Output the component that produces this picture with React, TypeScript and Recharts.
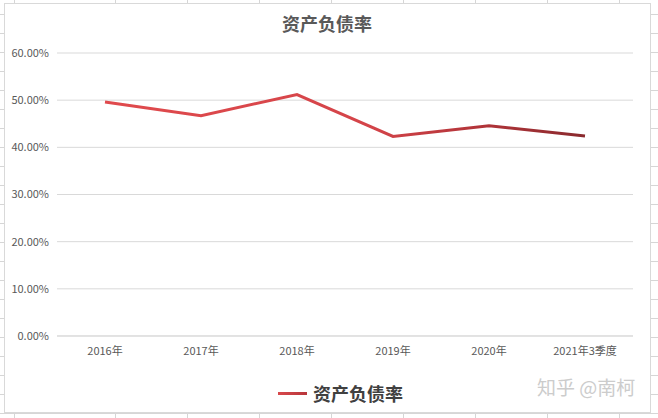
import { LineChart, Line, XAxis, YAxis, CartesianGrid } from "recharts"

const categories = ["2016年", "2017年", "2018年", "2019年", "2020年", "2021年3季度"]
const debtRatio = [0.496, 0.467, 0.512, 0.423, 0.446, 0.424]
const yTicks = [0, 0.1, 0.2, 0.3, 0.4, 0.5, 0.6]

const data = categories.map((name, i) => ({ name, value: debtRatio[i] }))

const CJK = '"Noto Sans CJK SC", "Noto Sans", sans-serif'
const SHEET_LINE = "#d6d6d6"

// spreadsheet cell lines behind the chart box
const sheetCols = [14, 115, 187, 259, 331, 403, 475, 547, 619]
const sheetRows = Array.from({ length: 22 }, (_, i) => 14 + i * 19)

export default function App() {
  return (
    <div
      style={{
        position: "fixed",
        left: 0,
        top: 0,
        width: 658,
        height: 418,
        overflow: "hidden",
        background: "#fff",
        fontFamily: CJK,
      }}
    >
      {sheetCols.map((x) => (
        <div key={"c" + x} style={{ position: "absolute", left: x, top: 0, width: 1, height: 418, background: SHEET_LINE }} />
      ))}
      {sheetRows.map((y) => (
        <div key={"r" + y} style={{ position: "absolute", left: 0, top: y, width: 658, height: 1, background: SHEET_LINE }} />
      ))}
      {/* chart box */}
      <div
        style={{
          position: "absolute",
          left: 4,
          top: 3,
          width: 645,
          height: 408,
          background: "#fff",
          border: "1px solid #d9d9d9",
        }}
      />
      <div
        style={{
          position: "absolute",
          left: 0,
          top: 10,
          width: 654,
          textAlign: "center",
          fontSize: 18,
          fontWeight: 700,
          color: "#595959",
          lineHeight: "26px",
        }}
      >
        资产负债率
      </div>
      <div style={{ position: "absolute", left: 0, top: 0 }}>
        <LineChart
          width={658}
          height={418}
          data={data}
          margin={{ top: 53, right: 25, bottom: 52, left: 10 }}
        >
          <defs>
            <linearGradient id="lineGrad" x1="0" y1="0" x2="1" y2="0">
              <stop offset="0%" stopColor="#e04a4d" />
              <stop offset="55%" stopColor="#d44449" />
              <stop offset="78%" stopColor="#b23439" />
              <stop offset="100%" stopColor="#8a2a2e" />
            </linearGradient>
          </defs>
          <CartesianGrid vertical={false} stroke="#d9d9d9" />
          <XAxis
            dataKey="name"
            height={30}
            padding={{ left: 48, right: 48 }}
            axisLine={{ stroke: "#d9d9d9" }}
            tickLine={false}
            tickSize={0}
            tickMargin={11}
            tick={{ fontSize: 11, fill: "#595959", fontFamily: CJK }}
            interval={0}
          />
          <YAxis
            width={47}
            domain={[0, 0.6]}
            ticks={yTicks}
            axisLine={false}
            tickLine={false}
            tickSize={0}
            tickMargin={8}
            tickFormatter={(v: number) => (v * 100).toFixed(2) + "%"}
            tick={{ fontSize: 11, fill: "#595959", fontFamily: CJK }}
          />
          <Line
            type="linear"
            dataKey="value"
            stroke="url(#lineGrad)"
            strokeWidth={3}
            dot={false}
            activeDot={false}
            isAnimationActive={false}
          />
        </LineChart>
      </div>
      {/* legend */}
      <div
        style={{
          position: "absolute",
          left: 278,
          top: 380,
          display: "flex",
          alignItems: "center",
          gap: 6,
        }}
      >
        <div
          style={{
            width: 29,
            height: 3,
            background: "linear-gradient(to right, #d8484c, #b8363b)",
          }}
        />
        <span style={{ fontSize: 18, fontWeight: 700, color: "#404040", lineHeight: "26px" }}>
          资产负债率
        </span>
      </div>
      {/* watermark */}
      <div
        style={{
          position: "absolute",
          left: 537,
          top: 374,
          fontSize: 19,
          color: "#cccccc",
          lineHeight: "26px",
          whiteSpace: "nowrap",
        }}
      >
        知乎 @南柯
      </div>
    </div>
  )
}
